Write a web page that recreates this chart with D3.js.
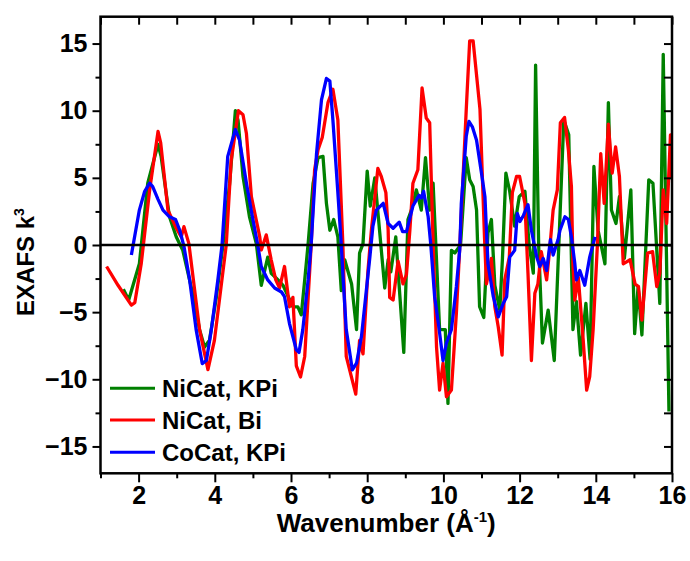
<!DOCTYPE html>
<html>
<head>
<meta charset="utf-8">
<script src="https://cdn.jsdelivr.net/npm/d3@7/dist/d3.min.js"></script>
<style>
  body { margin: 0; background: #fff; }
  text { font-family: "Liberation Sans", Arial, sans-serif; font-weight: bold; }
</style>
</head>
<body>
<div id="chart"></div>
<script>
// data: wavenumber (1/A) and EXAFS k^3
const seriesNames = ["NiCat, KPi", "NiCat, Bi", "CoCat, KPi"];
const seriesColors = ["#008000", "#ff0000", "#0000ff"];

const niKpiK = [1.60,1.74,2.02,2.24,2.51,2.59,2.81,2.99,3.16,3.45,3.60,3.73,3.86,4.04,4.21,4.39,4.54,4.61,4.74,4.91,5.09,5.22,5.39,5.48,5.66,5.79,6.05,6.18,6.27,6.36,6.45,6.58,6.71,6.84,6.93,7.02,7.12,7.23,7.32,7.41,7.59,7.72,7.80,7.89,8.00,8.08,8.20,8.33,8.46,8.55,8.62,8.75,8.96,9.07,9.16,9.29,9.42,9.53,9.64,9.73,9.90,10.05,10.12,10.21,10.30,10.45,10.60,10.69,10.78,10.87,10.95,11.06,11.17,11.26,11.35,11.48,11.55,11.64,11.74,11.87,11.99,12.14,12.25,12.36,12.42,12.50,12.60,12.75,12.91,13.01,13.16,13.29,13.40,13.49,13.60,13.74,13.85,13.95,14.06,14.24,14.33,14.41,14.53,14.62,14.75,14.92,15.02,15.11,15.21,15.39,15.50,15.68,15.77,15.92];
const niKpiY = [-3.3,-4.1,-1.4,4.6,7.5,6.6,2.1,0.6,-0.4,-4.0,-6.3,-7.6,-7.1,-3.9,-0.1,4.6,10.0,9.3,5.1,2.1,0.1,-3.0,-0.9,-2.1,-2.6,-3.0,-4.6,-4.6,-5.2,-2.6,0.1,4.6,6.5,6.6,3.1,1.1,1.9,0.6,-3.4,-1.1,-2.9,-6.3,-0.6,0.1,5.5,2.9,5.0,0.9,-3.2,-1.1,-2.0,0.6,-8.0,1.9,2.6,4.1,2.6,6.5,2.6,4.6,-6.3,-6.3,-11.8,-0.4,-0.6,0.0,6.5,4.85,4.35,2.6,-4.6,-5.4,0.9,1.9,-3.0,-4.85,-1.0,5.35,4.0,1.4,3.6,4.0,0.0,-2.1,13.4,0.0,-7.3,-4.85,-8.6,-1.4,9.3,8.2,-6.3,-4.2,-8.2,-4.35,-8.5,5.85,1.1,-1.4,10.6,2.6,1.6,3.6,-1.0,4.1,-6.6,-3.1,-6.7,4.85,4.6,-4.35,14.2,-12.4];

const niBiK = [1.16,1.46,1.81,1.90,2.07,2.29,2.51,2.58,2.77,2.99,3.12,3.19,3.32,3.60,3.82,3.99,4.30,4.43,4.62,4.74,4.83,4.96,5.18,5.22,5.35,5.48,5.60,5.70,5.83,5.96,6.05,6.14,6.25,6.36,6.45,6.53,6.62,6.71,6.82,6.97,7.10,7.23,7.36,7.45,7.70,7.80,7.89,8.02,8.11,8.28,8.37,8.49,8.55,8.59,8.68,8.81,8.94,9.03,9.12,9.20,9.33,9.44,9.55,9.64,9.73,9.82,9.90,9.99,10.08,10.21,10.34,10.43,10.60,10.69,10.78,10.96,11.08,11.13,11.26,11.35,11.44,11.54,11.61,11.73,11.81,11.92,12.00,12.14,12.22,12.31,12.40,12.48,12.57,12.71,12.80,12.88,12.99,13.07,13.18,13.28,13.36,13.40,13.45,13.54,13.67,13.76,13.84,13.93,14.04,14.13,14.22,14.33,14.43,14.52,14.62,14.72,14.90,15.03,15.12,15.21,15.36,15.49,15.60,15.68,15.77,15.86,15.96,16.00];
const niBiY = [-1.6,-3.0,-4.48,-4.3,-1.37,4.1,8.46,7.6,2.6,1.25,0.6,1.37,0.1,-6.3,-9.28,-7.1,0.0,6.3,10.0,9.7,8.3,3.6,0.6,-0.37,0.75,-1.1,-2.6,-3.2,-1.6,-4.6,-3.9,-9.0,-9.83,-8.3,-3.9,0.0,5.6,7.1,8.0,10.6,11.6,9.3,0.1,-8.3,-11.1,-7.1,-8.1,-1.9,1.1,5.7,5.1,3.9,1.1,-3.9,-4.1,-1.2,-2.9,-2.2,1.1,4.6,5.6,11.7,9.45,9.1,0.1,-7.6,-10.8,-8.8,-11.3,-10.8,-5.1,-0.1,10.1,15.2,15.2,10.1,0.5,-2.9,-1.0,-4.6,-6.1,-8.2,-2.6,-0.9,3.9,5.1,5.1,3.1,-2.1,-8.6,-3.6,-2.9,-0.5,-2.6,0.0,2.6,4.1,9.1,9.5,7.1,4.35,-1.4,-4.1,-2.4,-7.1,-10.8,-9.8,-6.3,-0.1,6.8,3.1,9.0,5.35,7.3,5.1,-1.4,-1.1,-2.9,-3.1,-5.6,-0.6,-0.5,-3.1,-2.1,4.1,1.6,8.2,5.0];

const coKpiK = [1.81,2.02,2.16,2.29,2.37,2.51,2.64,2.81,2.97,3.08,3.19,3.34,3.51,3.67,3.78,3.91,4.08,4.19,4.34,4.54,4.65,4.83,5.00,5.12,5.22,5.39,5.57,5.75,5.83,5.96,6.14,6.21,6.31,6.45,6.53,6.67,6.80,6.93,7.02,7.10,7.23,7.32,7.36,7.45,7.61,7.72,7.85,7.96,8.07,8.15,8.24,8.42,8.55,8.68,8.84,8.93,9.03,9.20,9.36,9.42,9.48,9.60,9.67,9.77,9.89,9.99,10.08,10.21,10.34,10.43,10.47,10.60,10.67,10.76,10.87,11.00,11.09,11.17,11.31,11.44,11.57,11.66,11.74,11.87,11.94,12.01,12.10,12.22,12.31,12.45,12.53,12.62,12.71,12.81,12.88,13.01,13.06,13.19,13.28,13.36,13.45,13.49,13.58,13.71,13.84,13.98];
const coKpiY = [-0.75,2.6,4.0,4.6,4.35,3.4,2.6,2.1,1.9,1.1,-0.1,-2.6,-6.3,-8.83,-8.6,-6.3,-2.6,0.0,6.6,8.6,7.8,4.6,1.9,0.1,-1.6,-2.6,-3.2,-3.5,-3.85,-5.85,-7.8,-8.0,-6.3,-2.6,0.1,6.8,10.8,12.4,12.2,9.3,3.9,0.0,-2.1,-6.3,-9.3,-8.8,-6.8,-3.85,-0.9,1.4,2.6,3.1,1.6,1.25,1.7,1.0,1.0,2.9,3.7,3.5,4.0,2.1,0.0,-3.85,-6.3,-8.6,-7.3,-6.3,-3.1,-0.3,3.1,8.1,9.2,8.8,7.8,5.35,3.6,-1.4,-3.85,-5.35,-4.35,-3.85,-0.9,-0.4,2.35,1.75,2.2,3.0,1.1,-0.9,-1.6,-1.0,-1.9,0.4,-0.75,0.4,1.1,2.1,1.9,0.6,-1.4,-2.6,-1.9,-3.0,-0.9,0.6];

// tick values
const xMajorTicks = [2, 4, 6, 8, 10, 12, 14, 16];
const xMinorTicks = [1, 3, 5, 7, 9, 11, 13, 15];
const yMajorTicks = [-15, -10, -5, 0, 5, 10, 15];
const yMinorTicks = [-12.5, -7.5, -2.5, 2.5, 7.5, 12.5];

// set the dimensions and margins for the chart
let margin = {top: 16.7, right: 18, bottom: 87.7, left: 100.5};
let width = 690 - margin.left - margin.right,
    height = 561 - margin.top - margin.bottom;

const svg = d3.select("#chart")
              .append("svg")
                .attr("width", 690)
                .attr("height", 561)
              .append("g")
                .attr("transform", "translate(" + margin.left + "," + margin.top + ")");

let x = d3.scaleLinear().domain([1, 16]).range([0, width]);
let y = d3.scaleLinear().domain([-17, 17]).range([height, 0]);

svg.append("clipPath")
    .attr("id", "plotClip")
  .append("rect")
    .attr("width", width)
    .attr("height", height);

// series
const series = [
  {k: niKpiK, v: niKpiY},
  {k: niBiK, v: niBiY},
  {k: coKpiK, v: coKpiY}
];

const line = d3.line()
               .x(function(d) { return x(d[0]); })
               .y(function(d) { return y(d[1]); });

series.forEach(function(s, i) {
  svg.append("path")
      .datum(d3.zip(s.k, s.v))
      .attr("clip-path", "url(#plotClip)")
      .attr("fill", "none")
      .attr("stroke", seriesColors[i])
      .attr("stroke-width", 3.3)
      .attr("stroke-linejoin", "round")
      .attr("d", line);
});

// zero line
svg.append("line")
    .attr("x1", x(1)).attr("x2", x(16))
    .attr("y1", y(0)).attr("y2", y(0))
    .attr("stroke", "black")
    .attr("stroke-width", 2.5);

// axes
function styleAxis(g) {
  g.select(".domain").remove();
  g.selectAll("line").attr("stroke", "black").attr("stroke-width", 2);
  g.selectAll("text").attr("fill", "black").style("font-size", "25px");
}

svg.append("g")
    .attr("transform", "translate(0," + height + ")")
    .call(d3.axisBottom(x).tickValues(xMajorTicks).tickSize(9).tickPadding(4).tickFormat(d3.format("d")))
    .call(styleAxis);
svg.append("g")
    .attr("transform", "translate(0," + height + ")")
    .call(d3.axisBottom(x).tickValues(xMinorTicks).tickSize(5).tickFormat(""))
    .call(styleAxis);
svg.append("g")
    .call(d3.axisBottom(x).tickValues(xMajorTicks.concat(xMinorTicks)).tickSize(8).tickFormat(""))
    .call(styleAxis);

svg.append("g")
    .call(d3.axisLeft(y).tickValues(yMajorTicks).tickSize(8).tickPadding(5).tickFormat(d3.format("d")))
    .call(styleAxis);
svg.append("g")
    .call(d3.axisLeft(y).tickValues(yMinorTicks).tickSize(5).tickFormat(""))
    .call(styleAxis);
svg.append("g")
    .attr("transform", "translate(" + width + ",0)")
    .call(d3.axisLeft(y).tickValues(yMajorTicks.concat(yMinorTicks)).tickSize(8).tickFormat(""))
    .call(styleAxis);

// frame
svg.append("rect")
    .attr("width", width)
    .attr("height", height)
    .attr("fill", "none")
    .attr("stroke", "black")
    .attr("stroke-width", 2.5);

// axis titles
const xTitle = svg.append("text")
    .attr("x", width / 2)
    .attr("y", height + 59)
    .attr("text-anchor", "middle")
    .style("font-size", "26px");
xTitle.append("tspan").text("Wavenumber (Å");
xTitle.append("tspan").attr("dy", -10).style("font-size", "15px").text("-1");
xTitle.append("tspan").attr("dy", 10).text(")");

const yTitle = svg.append("text")
    .attr("transform", "translate(" + (34 - margin.left) + "," + (262 - margin.top) + ")rotate(-90)")
    .attr("text-anchor", "middle")
    .style("font-size", "24px");
yTitle.append("tspan").text("EXAFS k");
yTitle.append("tspan").attr("dy", -10).style("font-size", "14px").text("3");

// legend
const legendY = [388.3, 420, 452.3];
seriesNames.forEach(function(name, i) {
  let ly = legendY[i] - margin.top;
  svg.append("line")
      .attr("x1", 110 - margin.left).attr("x2", 155 - margin.left)
      .attr("y1", ly).attr("y2", ly)
      .attr("stroke", seriesColors[i])
      .attr("stroke-width", 3);
  svg.append("text")
      .attr("x", 162 - margin.left)
      .attr("y", ly)
      .attr("dy", "0.36em")
      .style("font-size", "24px")
      .text(name);
});
</script>
